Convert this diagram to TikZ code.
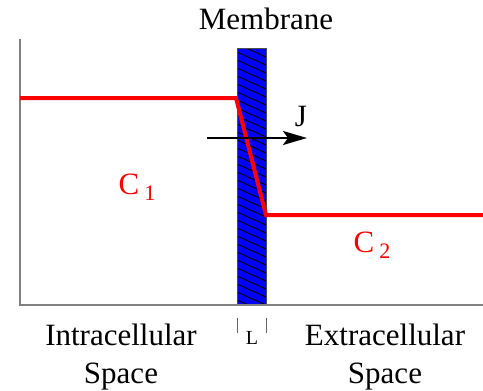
\documentclass[tikz,border=0pt]{standalone}
\usepackage{fontspec}
\setmainfont{Liberation Serif}
\usetikzlibrary{arrows.meta,positioning}
\tikzset{
  axis/.style  = {draw=black!50, line width=1pt},
  conc/.style  = {draw=red, line width=2pt, line join=miter},
  flux/.style  = {-{Stealth[length=12pt,width=7pt,inset=2.5pt]}, line width=0.9pt},
  lbl/.style   = {font=\rmfamily\fontsize{15.5}{18}\selectfont, inner sep=0pt},
  clbl/.style  = {lbl, text=red},
  tick/.style  = {draw=black!60, line width=0.5pt},
  mem/.style   = {fill=blue, draw=black!70, line width=0.5pt}
}

\begin{document}
\begin{tikzpicture}[x=0.5pt,y=-0.5pt]
  \useasboundingbox (0,0) rectangle (483,391);
  % membrane with hatching
  \coordinate (mtl) at (237,48);
  \coordinate (mbr) at (266,305);
  \path[mem] (mtl) rectangle (mbr);
  \begin{scope}
    \clip (mtl) rectangle (mbr);
    \foreach \y in {20,28,...,320}
      \draw[line width=0.45pt] (237,\y) -- (266,\y+13);
  \end{scope}
  \draw[draw=black!70, line width=0.5pt] (mtl) rectangle (mbr);

  % axes
  \coordinate (o) at (20,305);
  \draw[axis] (20,39) -- (o) -- (483,305);

  % concentration profile
  \coordinate (c1a) at (20,98);
  \coordinate (c1b) at (236,98);
  \coordinate (c2a) at (266,215);
  \coordinate (c2b) at (483,215);
  \draw[conc] (c1a) -- (c1b) -- (c2a) -- (c2b);

  % flux
  \coordinate (ja) at (207,138);
  \coordinate (jb) at (307,138);
  \draw[flux] (ja) -- (jb);
  \node[lbl] (j) at (301,117) {J};

  \node[clbl] (c1) at (137,187) {C\,{\fontsize{11}{12}\selectfont\raisebox{-3pt}{1}}};
  \node[clbl] (c2) at (372,245) {C\,{\fontsize{11}{12}\selectfont\raisebox{-3pt}{2}}};

  \node[lbl] (memb) at (266,19) {Membrane};

  % thickness ticks
  \draw[tick] (237,318) -- (237,333);
  \draw[tick] (266,318) -- (266,333);
  \node[lbl, font=\rmfamily\fontsize{10}{12}\selectfont] (len) at (252,338) {L};

  \node[lbl, align=center] (intra) at (121,357) {Intracellular\\[1pt]Space};
  \node[lbl, align=center] (extra) at (385,357) {Extracellular\\[1pt]Space};
\end{tikzpicture}
\end{document}
